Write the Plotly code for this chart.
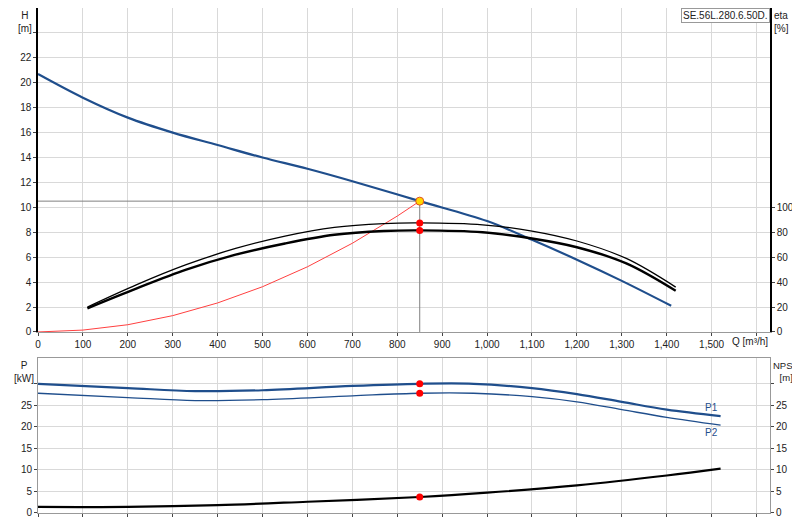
import plotly.graph_objects as go

# pump head curve
q_h = [0, 100, 200, 300, 400, 500, 600, 700, 850, 1000, 1100, 1200, 1300, 1410]
h = [20.7, 18.8, 17.2, 16.0, 15.0, 14.0, 13.1, 12.1, 10.5, 8.9, 7.4, 5.8, 4.1, 2.1]

# efficiency curves (%)
q_eta = [110, 220, 330, 440, 550, 660, 770, 850, 990, 1100, 1200, 1310, 1420]
eta_hyd = [20, 38, 54, 67, 77, 84, 87, 87.5, 86, 81, 73, 59, 36]
eta_tot = [19, 35, 50, 62, 71, 78, 81, 81.5, 80, 75, 68, 55, 33]

# system curve
q_sys = [0, 100, 200, 300, 400, 500, 600, 700, 800, 850]
h_sys = [0, 0.15, 0.58, 1.31, 2.33, 3.63, 5.23, 7.12, 9.3, 10.5]

# power and NPSH
q_p = [0, 200, 350, 500, 700, 850, 970, 1100, 1200, 1300, 1400, 1520]
p1 = [30, 29, 28.3, 28.5, 29.5, 30, 30, 29, 27.6, 25.8, 24, 22.5]
p2 = [27.8, 26.8, 26.1, 26.3, 27.2, 27.8, 27.8, 27, 25.8, 24, 22.2, 20.4]
q_npsh = [0, 200, 400, 600, 850, 1000, 1200, 1400, 1520]
npsh = [1.4, 1.4, 1.8, 2.6, 3.7, 4.7, 6.4, 8.7, 10.3]

duty_q, duty_h = 850, 10.5
duty_eta = [87.5, 81.5]
duty_p = [30, 27.8]
duty_npsh = 3.7

blue = "#1f4e8c"
grid = "#d9d9d9"
fig = go.Figure()

# top: head / eta
fig.add_trace(go.Scatter(x=[0, duty_q, duty_q], y=[duty_h, duty_h, 0], mode="lines",
                         line=dict(color="#808080", width=1), xaxis="x", yaxis="y"))
fig.add_trace(go.Scatter(x=q_sys, y=h_sys, mode="lines", line=dict(color="#ff4040", width=1),
                         xaxis="x", yaxis="y"))
fig.add_trace(go.Scatter(x=q_h, y=h, mode="lines", line=dict(color=blue, width=2.2, shape="spline"),
                         xaxis="x", yaxis="y"))
fig.add_trace(go.Scatter(x=q_eta, y=eta_hyd, mode="lines", line=dict(color="black", width=1.3, shape="spline"),
                         xaxis="x", yaxis="y2"))
fig.add_trace(go.Scatter(x=q_eta, y=eta_tot, mode="lines", line=dict(color="black", width=2.4, shape="spline"),
                         xaxis="x", yaxis="y2"))
fig.add_trace(go.Scatter(x=[duty_q] * 2, y=duty_eta, mode="markers", marker=dict(color="red", size=7),
                         xaxis="x", yaxis="y2"))
fig.add_trace(go.Scatter(x=[duty_q], y=[duty_h], mode="markers",
                         marker=dict(color="#ffd700", size=8, line=dict(color="#e05020", width=1)),
                         xaxis="x", yaxis="y"))

# bottom: power / NPSH
fig.add_trace(go.Scatter(x=q_p, y=p1, mode="lines", line=dict(color=blue, width=2.2, shape="spline"),
                         xaxis="x2", yaxis="y3"))
fig.add_trace(go.Scatter(x=q_p, y=p2, mode="lines", line=dict(color=blue, width=1.3, shape="spline"),
                         xaxis="x2", yaxis="y3"))
fig.add_trace(go.Scatter(x=q_npsh, y=npsh, mode="lines", line=dict(color="black", width=2.2, shape="spline"),
                         xaxis="x2", yaxis="y4"))
fig.add_trace(go.Scatter(x=[duty_q] * 2, y=duty_p, mode="markers", marker=dict(color="red", size=7),
                         xaxis="x2", yaxis="y3"))
fig.add_trace(go.Scatter(x=[duty_q], y=[duty_npsh], mode="markers", marker=dict(color="red", size=7),
                         xaxis="x2", yaxis="y4"))

qticks = list(range(0, 1700, 100))
qtext = [f"{v:,}" if v <= 1500 else "" for v in qticks]
xcommon = dict(range=[0, 1630], tickvals=qticks, showgrid=True, gridcolor=grid, zeroline=False,
               showline=True, linecolor="#999", mirror=True, ticks="outside", ticklen=3,
               automargin=False)
htick = list(range(0, 26, 2))
ptick = list(range(0, 35, 5))

fig.update_layout(
    width=800, height=520, showlegend=False,
    paper_bgcolor="white", plot_bgcolor="white",
    margin=dict(l=30, r=38, t=0, b=0, autoexpand=False),
    font=dict(family="Liberation Sans, Arial", size=10, color="#222"),
    xaxis=dict(xcommon, domain=[0, 1], anchor="y", ticktext=qtext),
    xaxis2=dict(xcommon, domain=[0, 1], anchor="y3", ticktext=[""] * len(qticks)),
    yaxis=dict(domain=[0.377, 1], range=[0, 26], tickvals=htick,
               ticktext=[str(v) if v <= 22 else "" for v in htick],
               gridcolor=grid, zeroline=False, showline=True, linecolor="black", linewidth=1.5,
               ticks="outside", ticklen=3, automargin=False),
    yaxis2=dict(overlaying="y", side="right", anchor="x", range=[0, 260],
                tickvals=[0, 20, 40, 60, 80, 100], showgrid=False, zeroline=False,
                showline=True, linecolor="black", linewidth=1.5, ticks="outside", ticklen=3,
                automargin=False),
    yaxis3=dict(domain=[0.029, 0.327], anchor="x2", range=[0, 36], tickvals=ptick,
                ticktext=[str(v) if v <= 25 else "" for v in ptick],
                gridcolor=grid, zeroline=False, showline=True, linecolor="#999",
                ticks="outside", ticklen=3, automargin=False),
    yaxis4=dict(overlaying="y3", side="right", anchor="x2", range=[0, 36], tickvals=ptick,
                ticktext=[str(v) if v <= 25 else "" for v in ptick],
                showgrid=False, zeroline=False, showline=True, linecolor="#999",
                ticks="outside", ticklen=3, automargin=False),
    annotations=[
        dict(text="H<br>[m]", x=0, y=1, xref="paper", yref="paper", xanchor="right", yanchor="top",
             xshift=-4, showarrow=False, align="center"),
        dict(text="eta<br>[%]", x=1, y=1, xref="paper", yref="paper", xanchor="left", yanchor="top",
             xshift=2, showarrow=False, align="left"),
        dict(text="Q [m³/h]", x=1, y=0.377, xref="paper", yref="paper", xanchor="right", yanchor="top",
             yshift=-2, showarrow=False),
        dict(text="SE.56L.280.6.50D.", x=1, y=1, xref="paper", yref="paper", xanchor="right",
             yanchor="top", showarrow=False, bordercolor="#999", borderwidth=1, bgcolor="white",
             font=dict(size=10)),
        dict(text="P<br>[kW]", x=0, y=0.327, xref="paper", yref="paper", xanchor="right", yanchor="top",
             xshift=-2, showarrow=False, align="center"),
        dict(text="NPSH<br>[m]", x=1, y=0.327, xref="paper", yref="paper", xanchor="left", yanchor="top",
             xshift=1, showarrow=False, align="center", font=dict(size=9.5)),
        dict(text="P1", x=1500, y=24.5, xref="x2", yref="y3", showarrow=False, font=dict(color=blue)),
        dict(text="P2", x=1500, y=18.7, xref="x2", yref="y3", showarrow=False, font=dict(color=blue)),
    ],
)

fig.write_html("out.html")
